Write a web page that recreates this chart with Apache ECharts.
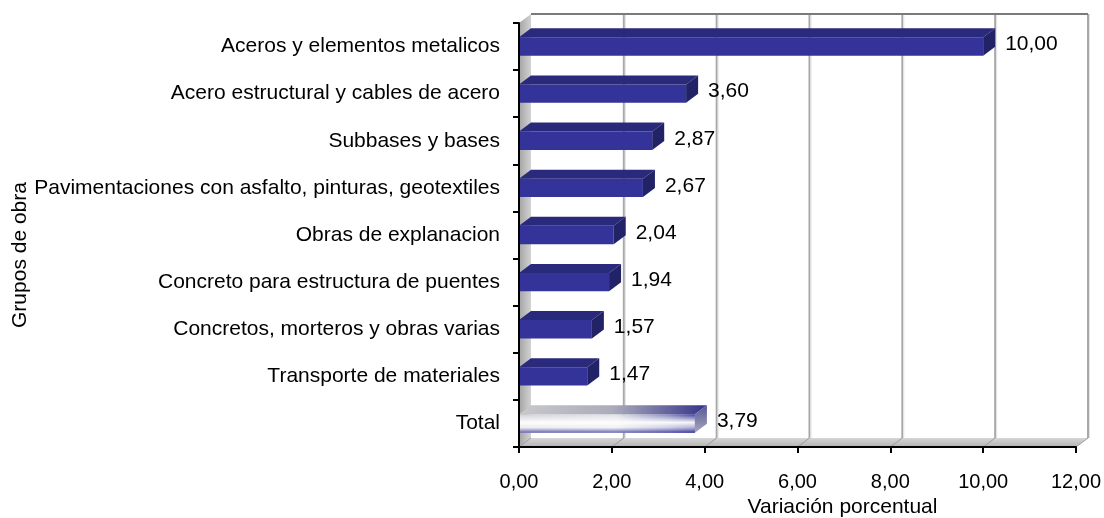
<!DOCTYPE html>
<html>
<head>
<meta charset="utf-8">
<script src="https://cdn.jsdelivr.net/npm/echarts@6/dist/echarts.min.js"></script>
<style>
    html, body { margin: 0; padding: 0; background: #fff; }
    #chart { width: 1104px; height: 518px; }
</style>
</head>
<body>
<div id="chart"></div>
<script>
(function () {

    'use strict';

    // 分类（从上到下）
    var categories = [
        'Aceros y elementos metalicos',
        'Acero estructural y cables de acero',
        'Subbases y bases',
        'Pavimentaciones con asfalto, pinturas, geotextiles',
        'Obras de explanacion',
        'Concreto para estructura de puentes',
        'Concretos, morteros y obras varias',
        'Transporte de materiales',
        'Total'
    ];
    // 变化百分比
    var values = [10.00, 3.60, 2.87, 2.67, 2.04, 1.94, 1.57, 1.47, 3.79];
    // 横轴刻度
    var xTicks = [0, 2, 4, 6, 8, 10, 12];

    var FONT = '"Liberation Sans", Arial, sans-serif',
        DX = 12,   // 3D 深度 横向
        DY = 9;    // 3D 深度 纵向

    function fmt(v) {
        return v.toFixed(2).replace('.', ',');
    }

    // 背景墙、地板、网格线
    function renderWalls(params, api) {
        var cs = params.coordSys,
            yT = cs.y,
            yB = cs.y + cs.height,
            x0 = api.coord([xTicks[0], 0])[0],
            xN = api.coord([xTicks[xTicks.length - 1], 0])[0],
            children = [];

        // 左侧墙
        children.push({
            type: 'polygon',
            shape: { points: [[x0, yB], [x0, yT], [x0 + DX, yT - DY], [x0 + DX, yB - DY]] },
            style: {
                fill: new echarts.graphic.LinearGradient(0, 0, 1, 0, [
                    { offset: 0, color: '#a4a4a4' },
                    { offset: 1, color: '#d2d2d2' }
                ])
            }
        });
        // 地板
        children.push({
            type: 'polygon',
            shape: { points: [[x0, yB], [x0 + DX, yB - DY], [xN + DX, yB - DY], [xN, yB]] },
            style: {
                fill: new echarts.graphic.LinearGradient(0, 0, 0, 1, [
                    { offset: 0, color: '#d6d6d6' },
                    { offset: 1, color: '#b4b4b4' }
                ])
            }
        });

        xTicks.forEach(function (t, i) {
            var x = api.coord([t, 0])[0];
            if (i > 0) {
                children.push({
                    type: 'line',
                    shape: { x1: x + DX, y1: yT - DY, x2: x + DX, y2: yB - DY },
                    style: { stroke: '#a8a8a8', lineWidth: 2 }
                });
                children.push({
                    type: 'line',
                    shape: { x1: x + DX + 1.5, y1: yT - DY, x2: x + DX + 1.5, y2: yB - DY },
                    style: { stroke: '#e4e4e4', lineWidth: 1 }
                });
            }
            children.push({
                type: 'line',
                shape: { x1: x, y1: yB, x2: x + DX, y2: yB - DY },
                style: { stroke: '#9c9c9c', lineWidth: 1 }
            });
        });

        // 顶部边框
        children.push({
            type: 'line',
            shape: { x1: x0 + DX, y1: yT - DY, x2: xN + DX, y2: yT - DY },
            style: { stroke: '#7a7a7a', lineWidth: 2 }
        });

        return { type: 'group', children: children };
    }

    // 3D 横向柱子
    function renderBar(params, api) {
        var v = api.value(0),
            idx = api.value(1),
            start = api.coord([0, idx]),
            end = api.coord([v, idx]),
            band = api.size([0, 1])[1],
            h = band * 0.39,
            x0 = start[0],
            x1 = end[0],
            yTop = end[1] - h / 2,
            yBot = end[1] + h / 2,
            isTotal = categories[idx] === 'Total',
            frontFill, topFill, sideFill, children = [];

        if (isTotal) {
            frontFill = new echarts.graphic.LinearGradient(0, 0, 1, 0, [
                { offset: 0, color: '#d0d0da' },
                { offset: 0.55, color: '#e0e0e8' },
                { offset: 0.85, color: '#8484bc' },
                { offset: 1, color: '#3a3a9c' }
            ]);
            topFill = new echarts.graphic.LinearGradient(0, 0, 1, 0, [
                { offset: 0, color: '#c8c8cc' },
                { offset: 0.5, color: '#ababbb' },
                { offset: 1, color: '#33338a' }
            ]);
            sideFill = new echarts.graphic.LinearGradient(0, 0, 0, 1, [
                { offset: 0, color: '#55559a' },
                { offset: 1, color: '#a8a8b8' }
            ]);
        } else {
            frontFill = '#333399';
            topFill = '#2a2a7c';
            sideFill = '#222266';
        }

        children.push({
            type: 'rect',
            shape: { x: x0, y: yTop, width: x1 - x0, height: h },
            style: { fill: frontFill }
        });
        if (isTotal) {
            // 金属光泽
            children.push({
                type: 'rect',
                shape: { x: x0, y: yTop, width: x1 - x0, height: h },
                style: {
                    fill: new echarts.graphic.LinearGradient(0, 0, 0, 1, [
                        { offset: 0, color: 'rgba(255,255,255,0)' },
                        { offset: 0.45, color: 'rgba(255,255,255,0.95)' },
                        { offset: 0.72, color: 'rgba(255,255,255,0.6)' },
                        { offset: 1, color: 'rgba(51,51,153,0.7)' }
                    ])
                }
            });
        }
        children.push({
            type: 'polygon',
            shape: { points: [[x0, yTop], [x0 + DX, yTop - DY], [x1 + DX, yTop - DY], [x1, yTop]] },
            style: { fill: topFill }
        });
        children.push({
            type: 'polygon',
            shape: { points: [[x1, yTop], [x1 + DX, yTop - DY], [x1 + DX, yBot - DY], [x1, yBot]] },
            style: { fill: sideFill }
        });
        children.push({
            type: 'text',
            style: {
                text: fmt(v),
                x: x1 + DX + 10,
                y: end[1] - 2,
                verticalAlign: 'middle',
                align: 'left',
                fill: '#000',
                font: '21px ' + FONT
            }
        });

        return { type: 'group', children: children };
    }

    var myChart = echarts.init(document.getElementById('chart'));

    var option = {
        animation: false,
        grid: {
            left: 519,
            right: 28,
            top: 23,
            bottom: 71,
            containLabel: false,
            outerBoundsMode: 'none'
        },
        xAxis: {
            type: 'value',
            min: 0,
            max: 12,
            interval: 2,
            z: 5,
            name: 'Variación porcentual',
            nameLocation: 'middle',
            nameGap: 50,
            nameMoveOverlap: false,
            nameTextStyle: {
                fontSize: 21,
                fontFamily: FONT,
                color: '#000',
                padding: [0, 0, 0, 90]
            },
            axisLine: { show: true, lineStyle: { color: '#000', width: 2 } },
            axisTick: { show: true, length: 6, lineStyle: { color: '#000', width: 2 } },
            axisLabel: {
                margin: 25,
                fontSize: 20,
                fontFamily: FONT,
                color: '#000',
                formatter: function (v) { return fmt(v); }
            },
            splitLine: { show: false }
        },
        yAxis: {
            type: 'category',
            data: categories,
            inverse: true,
            z: 5,
            name: 'Grupos de obra',
            nameLocation: 'middle',
            nameGap: 488,
            nameMoveOverlap: false,
            nameTextStyle: {
                fontSize: 21,
                fontFamily: FONT,
                color: '#000',
                padding: [0, 40, 0, 0]
            },
            axisLine: { show: true, lineStyle: { color: '#000', width: 2 } },
            axisTick: { show: true, length: 6, lineStyle: { color: '#000', width: 2 } },
            axisLabel: {
                margin: 19,
                fontSize: 21,
                fontFamily: FONT,
                color: '#000'
            }
        },
        series: [{
            type: 'custom',
            silent: true,
            z: 1,
            renderItem: renderWalls,
            data: [[0, 0]]
        }, {
            type: 'custom',
            z: 2,
            renderItem: renderBar,
            encode: { x: 0, y: 1 },
            data: values.map(function (v, i) { return [v, i]; })
        }]
    };

    myChart.setOption(option);
})();
</script>
</body>
</html>
